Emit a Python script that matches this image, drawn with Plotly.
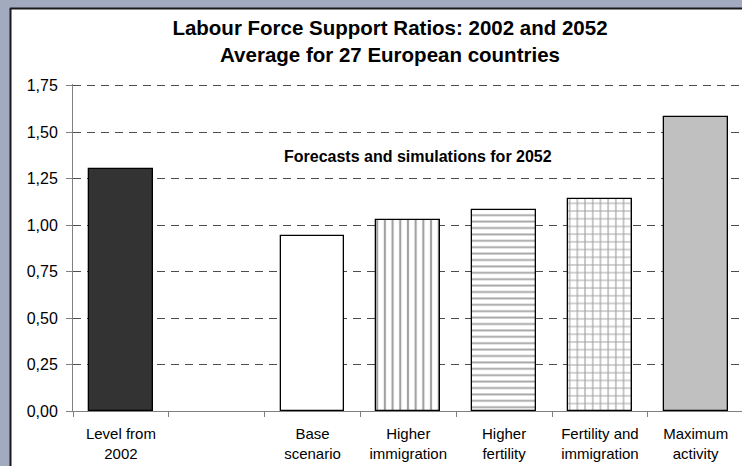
import plotly.graph_objects as go

# Labour force support ratios, 27 European countries
categories = ["Level from<br>2002", " ", "Base<br>scenario", "Higher<br>immigration",
              "Higher<br>fertility", "Fertility and<br>immigration", "Maximum<br>activity"]
ratios = [1.30, None, 0.94, 1.03, 1.08, 1.14, 1.585]
fill_colors = ["#333333", "white", "white", "white", "white", "white", "#c0c0c0"]
pattern_shapes = ["", "", "", "|", "-", "+", ""]
pattern_sizes = [8, 8, 8, 7.7, 6.4, 7.7, 8]
y_ticks = [0, 0.25, 0.5, 0.75, 1.0, 1.25, 1.5, 1.75]

W, H = 742, 466
Y_TOP = 1.76  # a little headroom so the 1,75 gridline is drawn inside the plot
L, R, T, B = 73, 0, 84, 55
pw, ph = W - L - R, H - T - B
GRID_COLOR, GRID_DASH = "#4d4d4d", "8px,6px"


def px_x(x):
    return (x - L) / pw


def px_y(y):
    return (H - B - y) / ph


fig = go.Figure()
fig.add_trace(go.Bar(
    x=categories,
    y=ratios,
    width=0.667,
    marker=dict(
        color=fill_colors,
        line=dict(color="black", width=1.3),
        pattern=dict(shape=pattern_shapes, size=pattern_sizes, solidity=0.28,
                     fgcolor="#8f8f8f", bgcolor="white", fillmode="overlay"),
    ),
    hoverinfo="skip",
))

fig.add_annotation(
    x=3.1, y=1.37, xref="x", yref="y",
    text="<b>Forecasts and simulations for 2052</b>",
    showarrow=False,
    font=dict(family="Liberation Sans, Arial", size=16, color="black"),
)

# white chart panel with dark edge on top and left
fig.add_shape(type="rect", xref="paper", yref="paper", layer="below",
              x0=px_x(10), x1=px_x(W + 5), y0=px_y(H + 5), y1=px_y(8),
              fillcolor="white", line=dict(width=0))
fig.add_shape(type="line", xref="paper", yref="paper",
              x0=px_x(10), x1=px_x(W + 5), y0=px_y(8.5), y1=px_y(8.5),
              line=dict(color="#1a1a1a", width=2))
fig.add_shape(type="line", xref="paper", yref="paper",
              x0=px_x(10.5), x1=px_x(10.5), y0=px_y(8), y1=px_y(H + 5),
              line=dict(color="#1a1a1a", width=2))

fig.update_layout(
    width=W, height=H,
    margin=dict(l=L, r=R, t=T, b=B, pad=0),
    paper_bgcolor="#a2aabf",
    plot_bgcolor="white",
    separators=", ",
    showlegend=False,
    bargap=0,
    title=dict(
        text="Labour Force Support Ratios: 2002 and 2052<br>Average for 27 European countries",
        x=390 / W, xanchor="center",
        y=1 - 35 / H, yanchor="middle", xref="container", yref="container",
        font=dict(family="Liberation Sans, Arial", size=20.5, color="black", weight="bold"),
    ),
    font=dict(family="Liberation Sans, Arial", color="black"),
)

fig.update_xaxes(
    type="category",
    range=[-0.5, -0.5 + pw / 95.8],
    showline=True, linecolor="#808080", linewidth=1,
    ticks="outside", ticklen=5, tickcolor="#808080", tickson="boundaries",
    showgrid=False,
    tickfont=dict(size=15),
    ticklabelstandoff=9,
    fixedrange=True,
)
fig.update_yaxes(
    range=[0, Y_TOP],
    tickvals=y_ticks, tickformat=".2f",
    showline=True, linecolor="#808080", linewidth=1,
    ticks="outside", ticklen=6, tickcolor="#808080",
    showgrid=True, gridcolor=GRID_COLOR, gridwidth=1, griddash=GRID_DASH,
    zeroline=False,
    tickfont=dict(size=16),
    ticklabelstandoff=5,
    fixedrange=True,
)

fig.write_html("out.html")
